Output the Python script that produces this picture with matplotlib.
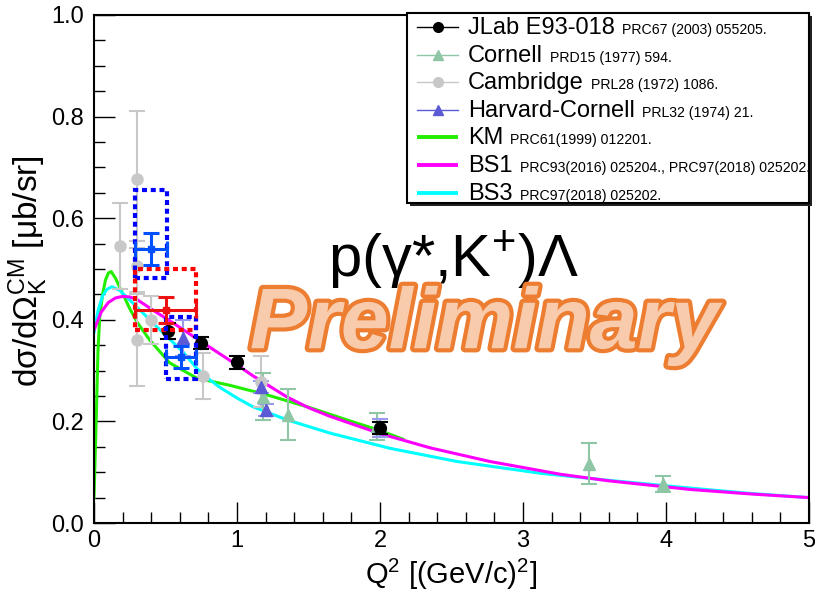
import matplotlib
matplotlib.use("Agg")
import matplotlib.pyplot as plt
from matplotlib.patches import Rectangle
from matplotlib.ticker import MultipleLocator, FormatStrFormatter
import matplotlib.patheffects as pe

plt.rcParams['font.family'] = ['Liberation Sans', 'DejaVu Sans']
plt.rcParams['mathtext.fontset'] = 'custom'
plt.rcParams['mathtext.rm'] = 'Liberation Sans'
plt.rcParams['mathtext.it'] = 'Liberation Sans:italic'
plt.rcParams['mathtext.bf'] = 'Liberation Sans:bold'

# ---- measured cross sections ----
jlab_q2 = [0.52, 0.75, 1.00, 2.00]
jlab_xs = [0.378, 0.354, 0.316, 0.187]
jlab_err = [0.015, 0.012, 0.012, 0.012]

cornell_q2 = [1.18, 1.36, 1.98, 3.46, 3.98]
cornell_xs = [0.249, 0.213, 0.190, 0.117, 0.077]
cornell_err = [0.046, 0.050, 0.026, 0.040, 0.016]

cambridge_q2 = [0.18, 0.30, 0.30, 0.30, 0.40, 0.76, 1.17]
cambridge_xs = [0.545, 0.677, 0.505, 0.360, 0.400, 0.289, 0.278]
cambridge_err = [0.085, 0.135, 0.050, 0.090, 0.047, 0.045, 0.050]

harvard_q2 = [0.62, 1.17, 1.20, 2.00]
harvard_xs = [0.364, 0.268, 0.222, 0.187]
harvard_err = [0.035, 0.012, 0.012, 0.017]

# ---- new preliminary points with stat errors and systematic boxes ----
new_q2 = [0.40, 0.50, 0.605]
new_q2_err = [0.11, 0.21, 0.105]
new_xs = [0.539, 0.419, 0.327]
new_xs_err = [0.032, 0.025, 0.021]
new_colors = ['#0050ff', '#ee1111', '#0050ff']
box_q2_lo = [0.29, 0.29, 0.50]
box_q2_hi = [0.51, 0.71, 0.71]
box_xs_lo = [0.482, 0.380, 0.283]
box_xs_hi = [0.655, 0.500, 0.406]
box_colors = ['#0000ff', '#ff0000', '#0000ff']

# ---- model curves ----
km_q2 = [0.0, 0.016, 0.028, 0.04, 0.06, 0.08, 0.10, 0.12, 0.15, 0.20, 0.25,
         0.30, 0.39, 0.53, 0.72, 0.95, 1.20, 1.50, 1.80, 2.00, 2.16]
km_xs = [0.05, 0.21, 0.34, 0.406, 0.450, 0.478, 0.492, 0.495, 0.482, 0.452,
         0.422, 0.396, 0.360, 0.315, 0.285, 0.271, 0.253, 0.228, 0.200, 0.182, 0.165]

bs1_q2 = [0.0, 0.05, 0.10, 0.15, 0.20, 0.25, 0.30, 0.44, 0.52, 0.60, 0.75, 0.88,
          1.00, 1.11, 1.35, 1.50, 1.65, 2.00, 2.35, 2.77, 3.26, 3.60, 4.17, 4.60, 5.00]
bs1_xs = [0.380, 0.415, 0.434, 0.443, 0.446, 0.445, 0.440, 0.414, 0.400, 0.385,
          0.357, 0.333, 0.311, 0.290, 0.248, 0.227, 0.210, 0.176, 0.148, 0.121,
          0.096, 0.083, 0.066, 0.057, 0.050]

bs3_q2 = [0.0, 0.03, 0.06, 0.09, 0.125, 0.18, 0.275, 0.44, 0.625, 0.72, 0.79,
          0.88, 1.00, 1.11, 1.35, 1.65, 2.07, 2.54, 3.12, 3.60, 4.20, 4.60, 5.00]
bs3_xs = [0.375, 0.420, 0.447, 0.460, 0.465, 0.458, 0.432, 0.386, 0.336,
          0.304, 0.286, 0.267, 0.246, 0.229, 0.203, 0.177, 0.147, 0.121,
          0.098, 0.084, 0.068, 0.058, 0.050]

C_JLAB = 'black'
C_CORNELL = '#8ec6a6'
C_CAMB = '#c8c8c8'
C_HARV = '#5a5ad6'
C_KM = '#22ee00'
C_BS1 = '#ff00ff'
C_BS3 = '#00ffff'

fig = plt.figure(figsize=(8.15, 5.91), dpi=100)
ax = fig.add_axes([94 / 815, 1 - 523 / 591, (809 - 94) / 815, (523 - 15) / 591])

# model curves
ax.plot(km_q2, km_xs, color=C_KM, lw=2.2, zorder=2)
ax.plot(bs3_q2, bs3_xs, color=C_BS3, lw=2.2, zorder=2)
ax.plot(bs1_q2, bs1_xs, color=C_BS1, lw=2.2, zorder=2)

# data sets
ax.errorbar(cambridge_q2, cambridge_xs, yerr=cambridge_err, fmt='o', ms=8,
            color=C_CAMB, ecolor=C_CAMB, elinewidth=1.5, capsize=6, capthick=1.5, zorder=3)
ax.errorbar(cornell_q2, cornell_xs, yerr=cornell_err, fmt='^', ms=8,
            color=C_CORNELL, ecolor=C_CORNELL, elinewidth=1.5, capsize=6, capthick=1.5, zorder=3)
ax.errorbar(harvard_q2, harvard_xs, yerr=harvard_err, fmt='^', ms=8,
            color=C_HARV, ecolor='#9999ee', elinewidth=1.5, capsize=6, capthick=1.5, zorder=3)
ax.errorbar(jlab_q2, jlab_xs, yerr=jlab_err, fmt='o', ms=8.5,
            color=C_JLAB, ecolor=C_JLAB, elinewidth=1.5, capsize=6, capthick=1.5, zorder=4)

# systematic boxes
for lo_x, hi_x, lo_y, hi_y, c in zip(box_q2_lo, box_q2_hi, box_xs_lo, box_xs_hi, box_colors):
    ax.add_patch(Rectangle((lo_x, lo_y), hi_x - lo_x, hi_y - lo_y, fill=False,
                           edgecolor=c, lw=3, linestyle=(0, (1.2, 0.9)), zorder=5))

for q, qe, s, se, c in zip(new_q2, new_q2_err, new_xs, new_xs_err, new_colors):
    ax.errorbar([q], [s], xerr=[qe], yerr=[se], fmt='s', ms=5, color=c, ecolor=c,
                elinewidth=2.2, capsize=6, capthick=2.2, zorder=6)

ax.set_xlim(0, 5)
ax.set_ylim(0, 1.0)
ax.xaxis.set_major_locator(MultipleLocator(1))
ax.xaxis.set_minor_locator(MultipleLocator(0.2))
ax.yaxis.set_major_locator(MultipleLocator(0.2))
ax.yaxis.set_minor_locator(MultipleLocator(0.05))
ax.yaxis.set_major_formatter(FormatStrFormatter('%.1f'))
ax.xaxis.set_major_formatter(FormatStrFormatter('%d'))
ax.tick_params(which='both', direction='in', top=False, right=False, width=1, colors='black')
ax.tick_params(which='major', length=15, labelsize=17)
ax.tick_params(axis='y', which='major', pad=7)
ax.tick_params(axis='x', which='major', pad=5)
ax.tick_params(which='minor', length=8)
for sp in ax.spines.values():
    sp.set_linewidth(1.5)

ax.set_xlabel('Q$^{2}$ [(GeV/c)$^{2}$]', fontsize=21)
ax.xaxis.set_label_coords(0.5, -0.066)
ax.set_ylabel('dσ/dΩ$_{\\mathrm{K}}^{\\mathrm{CM}}$ [μb/sr]', fontsize=24)
ax.yaxis.set_label_coords(-0.062, 0.495)

ax.text(2.51, 0.485, 'p(γ*,K$^{+}$)Λ', fontsize=43, ha='center', va='baseline', zorder=7)
ax.text(2.73, 0.344, 'Preliminary', fontsize=62, fontweight='bold', style='italic',
        color='#f8cbad', ha='center', va='baseline', zorder=8,
        path_effects=[pe.withStroke(linewidth=6, foreground='#ed7d31')])

# ---- legend panel ----
lg = fig.add_axes([407 / 815, 1 - 203 / 591, (809 - 407) / 815, (203 - 13) / 591])
lg.set_xlim(0, 402)
lg.set_ylim(190, 0)
lg.axis('off')
lg.add_patch(Rectangle((3, 3), 402, 190, facecolor='#222222', edgecolor='none', clip_on=False, zorder=0))
lg.add_patch(Rectangle((0, 0), 402, 190, facecolor='white', edgecolor='black', lw=1.5, clip_on=False, zorder=1))

legend_names = ['JLab E93-018', 'Cornell', 'Cambridge', 'Harvard-Cornell', 'KM', 'BS1', 'BS3']
legend_refs = ['PRC67 (2003) 055205.', 'PRD15 (1977) 594.', 'PRL28 (1972) 1086.',
               'PRL32 (1974) 21.', 'PRC61(1999) 012201.',
               'PRC93(2016) 025204., PRC97(2018) 025202.', 'PRC97(2018) 025202.']
legend_colors = [C_JLAB, C_CORNELL, C_CAMB, C_HARV, C_KM, C_BS1, C_BS3]
legend_markers = ['o', '^', 'o', '^', None, None, None]
row_y = [14, 42, 69, 97, 124, 152, 180]

for name, ref, c, m, y in zip(legend_names, legend_refs, legend_colors, legend_markers, row_y):
    if m is None:
        lg.plot([10, 51], [y, y], color=c, lw=2.8, solid_capstyle='butt', zorder=2)
    else:
        lg.plot([10, 51], [y, y], color=c, lw=1, zorder=2)
        lg.plot([30.5], [y], marker=m, ms=7, color=c, zorder=3)
    t = lg.text(61, y + 7, name, fontsize=17, va='baseline', ha='left', zorder=3)
    lg.annotate(ref, xy=(1, 0), xycoords=t, xytext=(7, 2), textcoords='offset pixels',
                fontsize=10.2, va='bottom', ha='left', zorder=3)

fig.savefig('out.png', dpi=100)
